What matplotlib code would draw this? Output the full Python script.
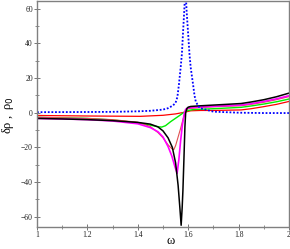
import matplotlib
matplotlib.use("Agg")
import matplotlib.pyplot as plt
from matplotlib.ticker import MultipleLocator

# data
blue_x = [1.0, 1.2, 1.3, 1.4, 1.45, 1.5, 1.52, 1.54, 1.55, 1.557, 1.563, 1.57, 1.575, 1.579, 1.584, 1.589,
          1.594, 1.6, 1.605, 1.61, 1.619, 1.625, 1.63, 1.64, 1.65, 1.7, 1.8, 1.9, 2.0]
blue_y = [0.3, 0.4, 0.5, 0.8, 1.1, 1.8, 2.6, 4.2, 5.8, 9.0, 16.0, 26.0, 34.0, 45.0, 58.0, 72.0,
          58.0, 45.0, 34.0, 26.0, 16.6, 10.0, 6.5, 3.8, 2.5, 0.6, 0.0, -0.2, -0.2]

black_x = [1.0, 1.1, 1.2, 1.3, 1.4, 1.45, 1.48, 1.5, 1.52, 1.537, 1.55, 1.56, 1.567, 1.572, 1.576, 1.579,
           1.583, 1.587, 1.59, 1.595, 1.6, 1.61, 1.65, 1.7, 1.75, 1.81, 1.85, 1.9, 1.95, 2.0]
black_y = [-3.3, -3.6, -4.0, -4.6, -5.6, -6.6, -8.2, -10.5, -14.5, -20.0, -29.0, -42.0, -55.0, -65.0, -55.0, -45.0,
           -27.0, -8.0, 0.0, 2.5, 3.2, 3.6, 4.0, 4.4, 4.8, 5.3, 6.2, 7.5, 9.2, 11.3]

magenta_x = [1.0, 1.1, 1.2, 1.3, 1.4, 1.45, 1.48, 1.5, 1.52, 1.535, 1.547, 1.556, 1.563, 1.57, 1.577,
             1.585, 1.59, 1.6, 1.65, 1.7, 1.75, 1.81, 1.85, 1.9, 1.95, 2.0]
magenta_y = [-3.3, -3.6, -4.0, -4.8, -6.4, -8.6, -11.0, -14.0, -19.5, -25.0, -31.0, -35.0, -27.0, -16.0, -7.0,
             0.0, 2.0, 2.8, 3.3, 3.7, 4.0, 4.4, 5.2, 6.5, 8.0, 9.8]

salmon_x = [1.0, 1.2, 1.3, 1.4, 1.45, 1.48, 1.5, 1.52, 1.535, 1.543, 1.55, 1.56, 1.57, 1.58, 1.59, 1.6,
            1.65, 1.7, 1.75, 1.81, 1.85, 1.9, 1.95, 2.0]
salmon_y = [-2.6, -3.3, -4.0, -5.5, -8.0, -11.5, -14.5, -18.5, -20.8, -21.3, -19.0, -14.0, -9.0, -3.5, 1.0, 2.4,
            3.0, 3.4, 3.7, 4.0, 4.8, 6.0, 7.5, 9.3]

green_x = [1.0, 1.2, 1.3, 1.4, 1.45, 1.48, 1.495, 1.51, 1.53, 1.55, 1.565, 1.583, 1.6, 1.62, 1.7, 1.81,
           1.85, 1.9, 1.95, 2.0]
green_y = [-2.7, -3.3, -4.2, -5.8, -7.2, -8.1, -8.3, -7.5, -5.2, -3.2, -1.7, 0.2, 1.3, 1.8, 2.3, 3.1,
           3.9, 5.0, 6.3, 7.9]

red_x = [1.0, 1.2, 1.41, 1.5, 1.55, 1.583, 1.61, 1.65, 1.7, 1.81, 1.85, 1.9, 1.95, 2.0]
red_y = [-1.6, -1.9, -2.1, -1.5, -0.7, 0.2, 1.1, 1.3, 1.3, 1.6, 2.3, 3.5, 4.8, 6.5]

x_ticks = [1, 1.2, 1.4, 1.6, 1.8, 2]
x_ticklabels = ["1", "1.2", "1.4", "1.6", "1.8", "2"]
y_ticks = [-60, -40, -20, 0, 20, 40, 60]
y_ticklabels = ["\u221260", "\u221240", "\u221220", "0", "20", "40", "60"]

W, H = 290, 249
fig = plt.figure(figsize=(W / 100, H / 100), dpi=100)
ax = fig.add_axes([37 / W, 22 / H, 252 / W, 226 / H])

ax.plot(red_x, red_y, color="#ff0000", lw=0.9)
ax.plot(green_x, green_y, color="#00ee00", lw=1.0)
ax.plot(salmon_x, salmon_y, color="#e05050", lw=0.8)
ax.plot(magenta_x, magenta_y, color="#ff00ff", lw=1.2)
ax.plot(black_x, black_y, color="#000000", lw=1.1)
ax.plot(blue_x, blue_y, color="#0000ff", lw=1.3, linestyle=(0, (1, 1)))

ax.set_xlim(1.0, 2.0)
ax.set_ylim(-66, 64.5)
ax.set_xticks(x_ticks)
ax.set_xticklabels(x_ticklabels)
ax.set_yticks(y_ticks)
ax.set_yticklabels(y_ticklabels)
ax.xaxis.set_minor_locator(MultipleLocator(0.1))
ax.yaxis.set_minor_locator(MultipleLocator(10))

for s in ax.spines.values():
    s.set_color("#808080")
    s.set_linewidth(1.0)
ax.tick_params(which="major", direction="inout", length=4, width=0.6, colors="#606060",
               labelsize=5.5, labelcolor="#202020", pad=1)
ax.tick_params(which="minor", direction="inout", length=3, width=0.5, colors="#606060")
for lab in ax.get_xticklabels() + ax.get_yticklabels():
    lab.set_family("Liberation Serif")

fig.text(171 / W, 1 - 241 / H, "\u03c9", fontsize=9, family="Liberation Serif",
         ha="center", va="center")
fig.text(8 / W, 1 - 115 / H, "\u03b4\u03c1 ,  \u03c1$_0$", fontsize=9, family="Liberation Serif",
         rotation=90, ha="center", va="center")

fig.savefig("out.png", dpi=100)
